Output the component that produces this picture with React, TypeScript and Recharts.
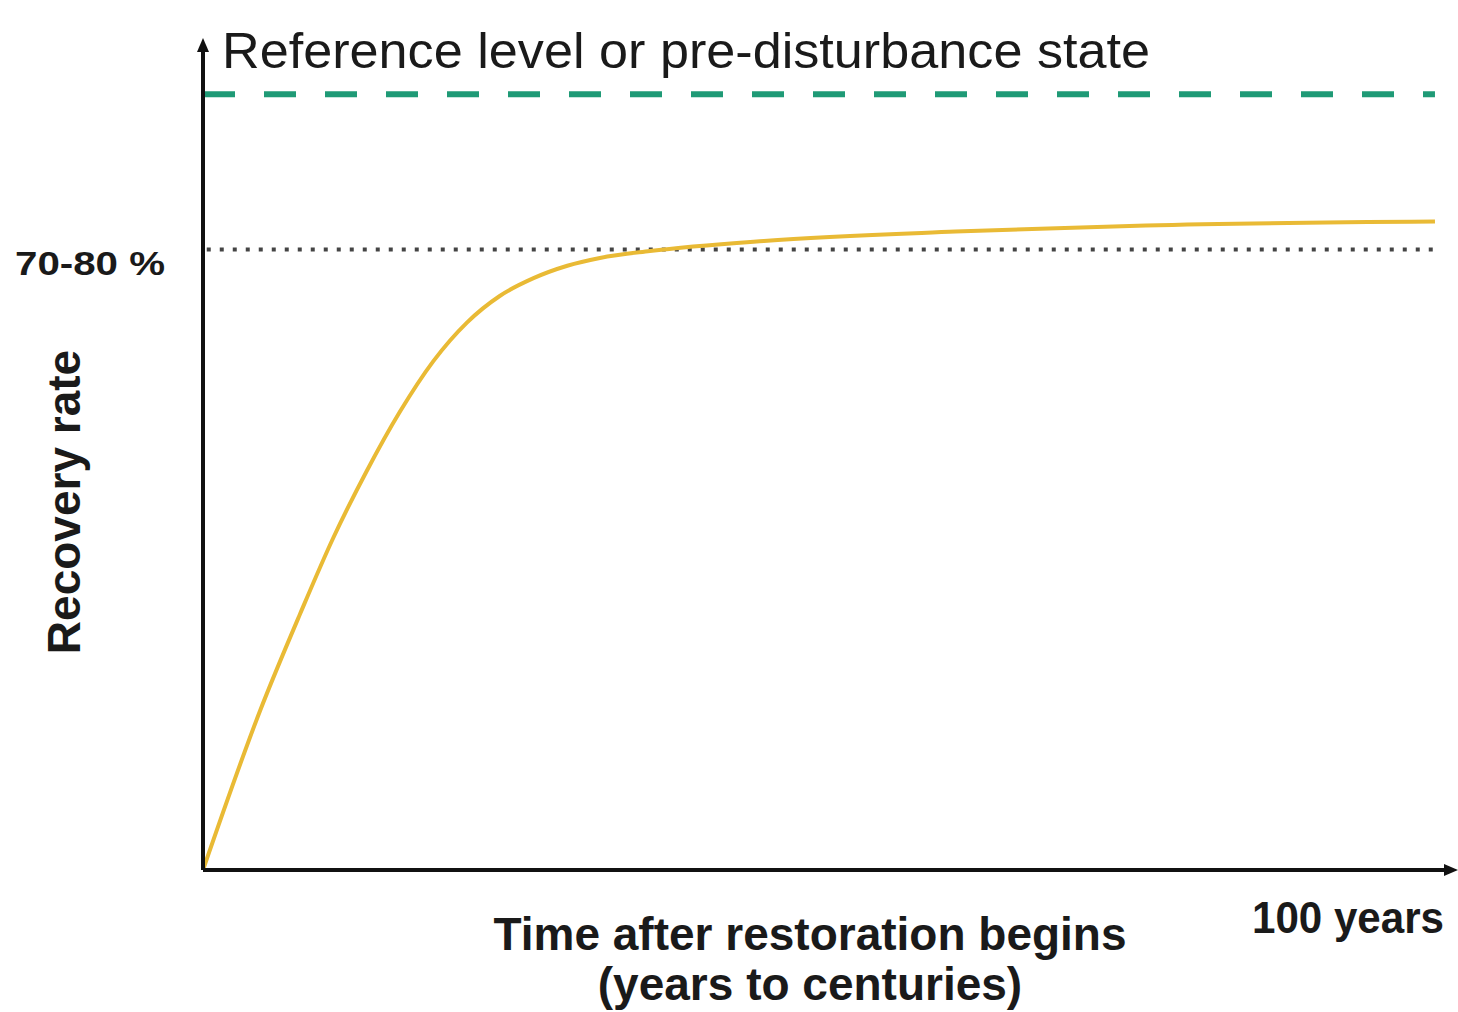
import { Customized, Line, LineChart, ReferenceDot, ReferenceLine, XAxis, YAxis } from "recharts";

// years after restoration begins
const years = [0, 4.55, 7.75, 10.4, 13.1, 15.7, 18.4, 21.1, 23.7, 26.4, 29.1, 31.7, 35.7, 44.8, 60.1, 75.3, 98.4];
// recovery rate in % of the reference level
const recovery = [0, 20.5, 33, 42.8, 51.5, 59, 65.6, 70.6, 74, 76.3, 77.9, 78.9, 79.8, 81.1, 82.3, 83.1, 83.6];

const referenceLevel = 100;
const plateauLevel = 80;
const plateauLabel = "70-80 %";
const xMax = 100;
const yMax = 107;

const data = years.map((year, i) => ({ year, recovery: recovery[i] }));

const font = "'Liberation Sans', Arial, sans-serif";
const axisColor = "#111";

function Texts() {
  return (
    <g fill="#1a1a1a" fontFamily={font}>
      <text x={222} y={68} fontSize={50} textLength={928} lengthAdjust="spacingAndGlyphs">
        Reference level or pre-disturbance state
      </text>
      <text x={15} y={275} fontSize={34} fontWeight="bold" textLength={150} lengthAdjust="spacingAndGlyphs">
        {plateauLabel}
      </text>
      <text
        x={0}
        y={0}
        transform="translate(80, 502) rotate(-90)"
        textAnchor="middle"
        fontSize={46}
        fontWeight="bold"
      >
        Recovery rate
      </text>
      <text x={810} y={950} textAnchor="middle" fontSize={46} fontWeight="bold">
        Time after restoration begins
      </text>
      <text x={810} y={1000} textAnchor="middle" fontSize={46} fontWeight="bold">
        (years to centuries)
      </text>
      <text x={1252} y={933} fontSize={44} fontWeight="bold" textLength={192} lengthAdjust="spacingAndGlyphs">
        100 years
      </text>
    </g>
  );
}

export default function App() {
  return (
    <div style={{ position: "absolute", left: 0, top: 0, background: "#fff" }}>
      <LineChart width={1458} height={1012} data={data} margin={{ top: 40, right: 3, bottom: 142, left: 203 }}>
        <XAxis dataKey="year" type="number" domain={[0, xMax]} hide />
        <YAxis type="number" domain={[0, yMax]} hide allowDataOverflow />
        <ReferenceLine
          segment={[
            { x: 0, y: referenceLevel },
            { x: 98.4, y: referenceLevel },
          ]}
          stroke="#1f9a76"
          strokeWidth={6}
          strokeDasharray="32 29"
        />
        <ReferenceLine
          segment={[
            { x: 0.3, y: plateauLevel },
            { x: 98.9, y: plateauLevel },
          ]}
          stroke="#444"
          strokeWidth={4}
          strokeDasharray="4 9"
        />
        <Line
          type="monotone"
          dataKey="recovery"
          stroke="#e9ba35"
          strokeWidth={4}
          dot={false}
          isAnimationActive={false}
        />
        <ReferenceLine
          segment={[
            { x: 0, y: 0 },
            { x: 0, y: yMax - 1 },
          ]}
          stroke={axisColor}
          strokeWidth={4}
        />
        <ReferenceLine
          segment={[
            { x: 0, y: 0 },
            { x: xMax - 0.5, y: 0 },
          ]}
          stroke={axisColor}
          strokeWidth={4}
        />
        <ReferenceDot
          x={0}
          y={yMax}
          r={0}
          shape={(p: any) => (
            <path d={`M${p.cx},${p.cy - 2} L${p.cx - 6},${p.cy + 12} L${p.cx + 6},${p.cy + 12} Z`} fill={axisColor} />
          )}
        />
        <ReferenceDot
          x={xMax}
          y={0}
          r={0}
          shape={(p: any) => (
            <path d={`M${p.cx + 3},${p.cy} L${p.cx - 11},${p.cy - 6} L${p.cx - 11},${p.cy + 6} Z`} fill={axisColor} />
          )}
        />
        <Customized component={Texts} />
      </LineChart>
    </div>
  );
}
